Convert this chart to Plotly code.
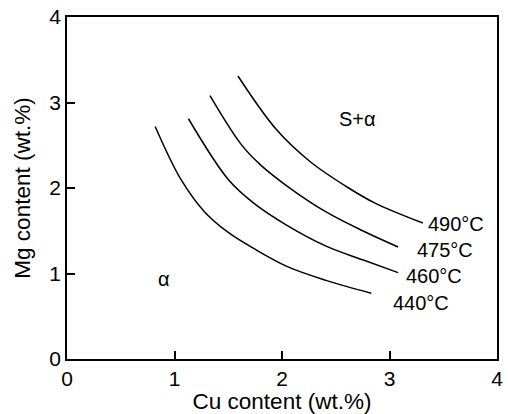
import plotly.graph_objects as go

# Isotherm data (Cu wt.%, Mg wt.%)
cu_440 = [0.82, 1.06, 1.28, 1.50, 1.74, 2.05, 2.41, 2.83]
mg_440 = [2.72, 2.10, 1.72, 1.48, 1.29, 1.08, 0.92, 0.77]

cu_460 = [1.13, 1.50, 1.74, 2.05, 2.41, 2.75, 3.08]
mg_460 = [2.81, 2.10, 1.82, 1.56, 1.32, 1.16, 1.01]

cu_475 = [1.33, 1.62, 1.80, 2.05, 2.41, 2.75, 3.08]
mg_475 = [3.08, 2.51, 2.27, 2.02, 1.72, 1.50, 1.31]

cu_490 = [1.59, 1.95, 2.26, 2.62, 2.87, 3.31]
mg_490 = [3.31, 2.68, 2.31, 2.00, 1.82, 1.59]

series = [
    (cu_440, mg_440),
    (cu_460, mg_460),
    (cu_475, mg_475),
    (cu_490, mg_490),
]

# Labels
label_text = ["490°C", "475°C", "460°C", "440°C", "S+α", "α"]
label_x = [3.615, 3.514, 3.41, 3.29, 2.706, 0.90]
label_y = [1.58, 1.28, 0.965, 0.65, 2.81, 0.93]

x_ticks = [0, 1, 2, 3, 4]
y_ticks = [0, 1, 2, 3, 4]

FONT = "Liberation Sans, Arial, sans-serif"

fig = go.Figure()
for xs, ys in series:
    fig.add_trace(go.Scatter(
        x=xs, y=ys, mode="lines",
        line=dict(color="black", width=1.5, shape="spline", smoothing=1.0),
        showlegend=False, hoverinfo="skip",
    ))

for t, x, y in zip(label_text, label_x, label_y):
    fig.add_annotation(x=x, y=y, text=t, showarrow=False,
                       font=dict(family=FONT, size=20, color="black"),
                       xanchor="center", yanchor="middle")

axis_common = dict(
    showline=True, linecolor="black", linewidth=1.5, mirror=True,
    ticks="inside", ticklen=8, tickwidth=1.5, tickcolor="black",
    showgrid=False, zeroline=False,
    tickfont=dict(family=FONT, size=21, color="black"),
)

fig.update_xaxes(range=[0, 4], tickvals=x_ticks,
                 title=dict(text="Cu content (wt.%)", standoff=3,
                            font=dict(family=FONT, size=22.5, color="black")),
                 **axis_common)
fig.update_yaxes(range=[0, 4], tickvals=y_ticks,
                 title=dict(text="Mg content (wt.%)", standoff=12,
                            font=dict(family=FONT, size=22.5, color="black")),
                 **axis_common)

fig.update_layout(
    width=508, height=414,
    margin=dict(l=67, r=5, t=15, b=55),
    paper_bgcolor="white", plot_bgcolor="white",
)

fig.write_html("out.html")
